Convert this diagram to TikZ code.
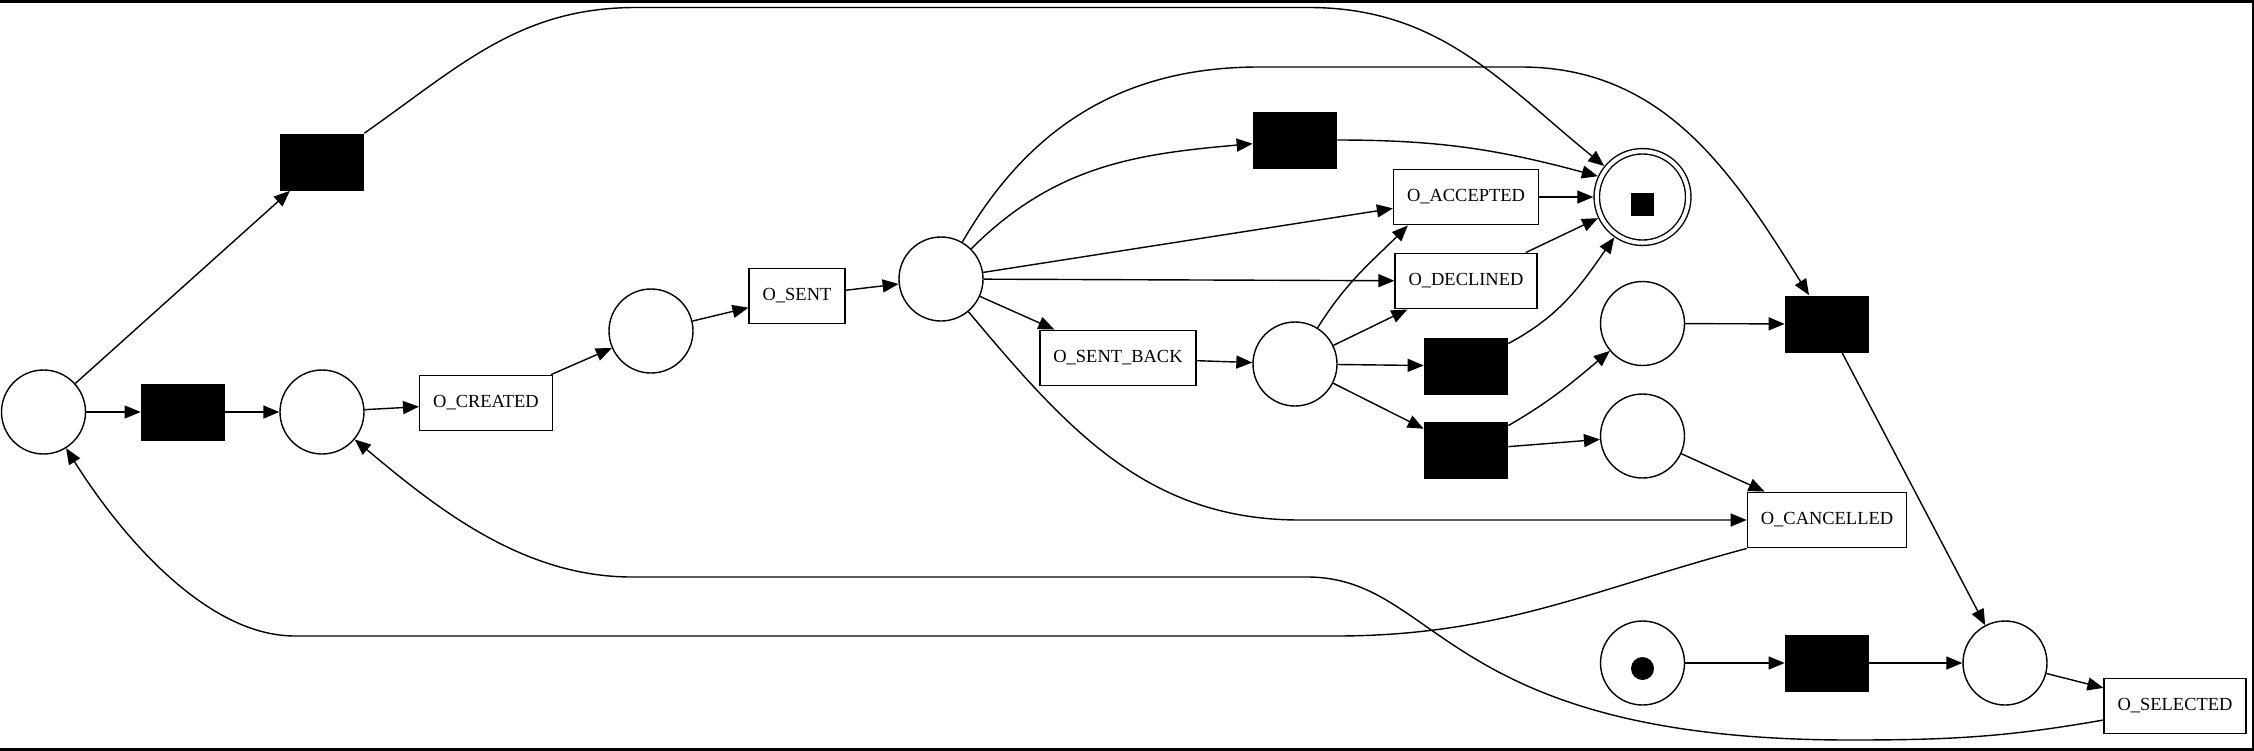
\documentclass[tikz,border=0pt]{standalone}
\usepackage{fontspec}
\setmainfont{Liberation Serif}
\usetikzlibrary{arrows.meta}

\begin{document}
\begin{tikzpicture}[
    place/.style={circle, draw=black, line width=0.8pt, minimum size=1.68cm, inner sep=0pt, fill=white},
    sink/.style={place, double, double distance=0.08cm, minimum size=1.83cm, outer sep=0.07cm},
    silent/.style={rectangle, fill=black, minimum width=1.68cm, minimum height=1.14cm, inner sep=0pt},
    task/.style={rectangle, draw=black, line width=0.8pt, minimum height=1.11cm, inner xsep=0.27cm, fill=white, font=\fontsize{10.5}{12}\selectfont},
    arc/.style={-{Triangle[length=0.32cm, width=0.26cm]}, line width=0.8pt}]

\useasboundingbox (0,0) rectangle (45.08,-15);
\draw[line width=0.1cm] (0,0) -- (45.08,0) -- (45.08,-15) -- (0,-15);

% Start and creation (left)
\node[place] (p_start) at (0.87,-8.24) {};
\node[silent] (t_skip_a) at (6.44,-3.24) {};
\node[silent] (t_init) at (3.66,-8.24) {};
\node[place] (p_open) at (6.44,-8.24) {};
\node[task] (o_created) at (9.72,-8.06) {O\_CREATED};
\node[place] (p_created) at (13.02,-6.62) {};
\node[task] (o_sent) at (15.94,-5.92) {O\_SENT};
\node[place] (p_sent) at (18.82,-5.58) {};

% Outcomes (middle)
\node[silent] (t_skip_b) at (25.90,-2.80) {};
\node[task] (o_accepted) at (29.32,-3.94) {O\_ACCEPTED};
\node[task] (o_declined) at (29.32,-5.62) {O\_DECLINED};
\node[task] (o_sent_back) at (22.36,-7.16) {O\_SENT\_BACK};
\node[place] (p_back) at (25.90,-7.28) {};
\node[silent] (t_close) at (29.32,-7.32) {};
\node[silent] (t_split) at (29.32,-9.00) {};

% End, cancel and selection (right)
\node[sink] (p_end) at (32.85,-3.94) {};
\node[place] (p_wait) at (32.85,-6.47) {};
\node[place] (p_cancel) at (32.85,-8.72) {};
\node[silent] (t_join) at (36.54,-6.48) {};
\node[task] (o_cancelled) at (36.54,-10.40) {O\_CANCELLED};
\node[place] (p_init) at (32.85,-13.26) {};
\node[silent] (t_select) at (36.54,-13.26) {};
\node[place] (p_select) at (40.10,-13.26) {};
\node[task] (o_selected) at (43.50,-14.12) {O\_SELECTED};

% Tokens
\fill ([xshift=-0.23cm,yshift=-0.37cm]p_end.center) rectangle ++(0.46,0.46);
\fill ([yshift=-0.11cm]p_init.center) circle (0.23);

% Arcs
\draw[arc] (p_start) -- (t_skip_a);
\draw[arc] (p_start) -- (t_init);
\draw[arc] (t_init) -- (p_open);
\draw[arc] (p_open) -- (o_created);
\draw[arc] (o_created) -- (p_created);
\draw[arc] (p_created) -- (o_sent);
\draw[arc] (o_sent) -- (p_sent);
\draw[arc] (t_skip_a.north east) to[out=35,in=180] (12.72,-0.15) -- (26.18,-0.15) to[out=0,in=141] (p_end);
\draw[arc] (p_sent) to[out=60,in=180] (25.18,-1.34) -- (30.42,-1.34) to[out=0,in=122] (t_join);
\draw[arc] (p_sent) to[out=45,in=185] (t_skip_b);
\draw[arc] (p_sent) -- (o_accepted);
\draw[arc] (p_sent) -- (o_declined);
\draw[arc] (p_sent) -- (o_sent_back);
\draw[arc] (p_sent) to[out=-50,in=180] (26.0,-10.40) -- (o_cancelled);
\draw[arc] (o_sent_back) -- (p_back);
\draw[arc] (p_back) to[out=58,in=-135] ([xshift=0.3cm]o_accepted.south west);
\draw[arc] (p_back) -- (o_declined);
\draw[arc] (p_back) -- (t_close);
\draw[arc] (p_back) -- (t_split);
\draw[arc] (t_skip_b) to[out=0,in=165] (p_end.155);
\draw[arc] (o_accepted) -- (p_end);
\draw[arc] (o_declined) -- (p_end);
\draw[arc] (t_close) to[out=28,in=-125] (p_end);
\draw[arc] (t_split) to[out=30,in=-140] (p_wait);
\draw[arc] (t_split) -- (p_cancel);
\draw[arc] (p_wait) -- (t_join);
\draw[arc] (p_cancel) -- (o_cancelled);
\draw[arc] (t_join) -- (p_select);
\draw[arc] (p_init) -- (t_select);
\draw[arc] (t_select) -- (p_select);
\draw[arc] (p_select) -- (o_selected);

% Loops back
\draw[arc] (o_cancelled.south west) to[out=-165,in=0] (26.7,-12.72) -- (5.9,-12.72) to[out=180,in=-58,looseness=0.8] (p_start);
\draw[arc] ([yshift=-0.28cm]o_selected.west) to[out=190,in=0] (37.0,-14.8) .. controls (28.8,-14.8) and (28.8,-11.54) .. (26.14,-11.54) -- (12.64,-11.54) to[out=180,in=-40,looseness=0.9] (p_open);

\end{tikzpicture}
\end{document}
